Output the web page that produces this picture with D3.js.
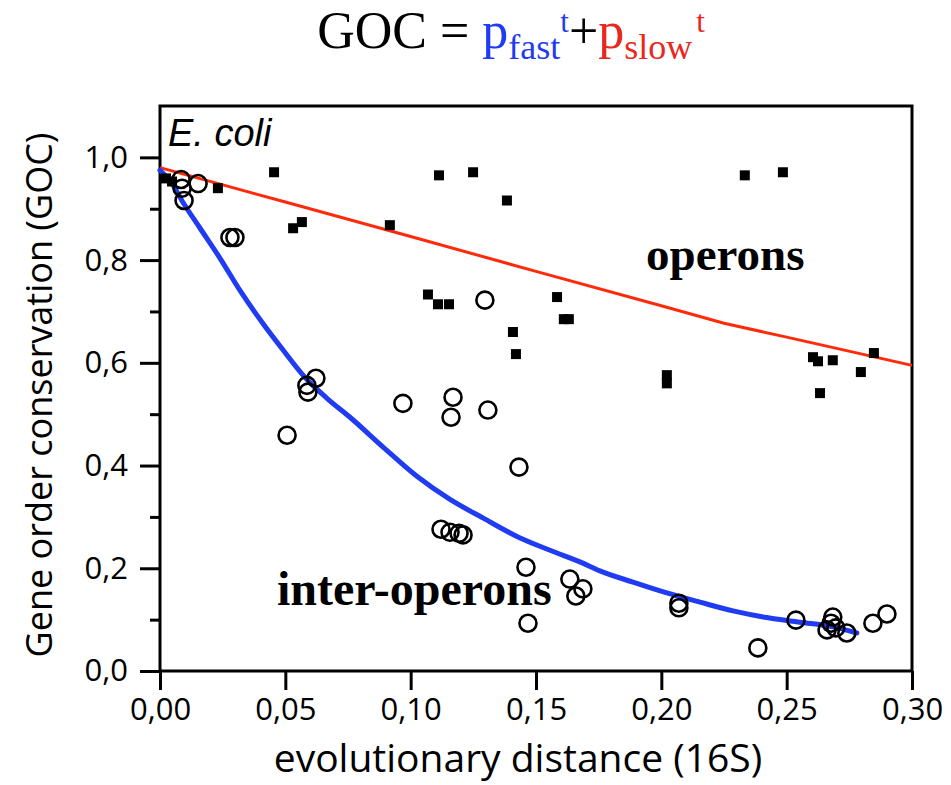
<!DOCTYPE html>
<html>
<head>
<meta charset="utf-8">
<script src="https://cdn.jsdelivr.net/npm/d3@7"></script>
<style>
	body { margin: 0; background: white; }
	svg { display: block; }
</style>
</head>
<body>
<script>
// operons: filled squares
let opX = [0.0024, 0.0048, 0.0231, 0.0455, 0.0531, 0.0566, 0.0917, 0.1113, 0.1249, 0.1384,
	0.1069, 0.1109, 0.1153, 0.1408, 0.1420, 0.1584, 0.1611, 0.1631, 0.2022, 0.2022,
	0.2333, 0.2485, 0.2605, 0.2625, 0.2684, 0.2633, 0.2796, 0.2848]
let opY = [0.959, 0.953, 0.940, 0.971, 0.862, 0.874, 0.868, 0.965, 0.971, 0.916,
	0.733, 0.714, 0.714, 0.660, 0.617, 0.728, 0.685, 0.685, 0.576, 0.560,
	0.965, 0.971, 0.611, 0.603, 0.605, 0.541, 0.582, 0.619]

// inter-operons: open circles
let ioX = [0.0084, 0.0152, 0.0088, 0.0096, 0.0279, 0.0299, 0.0507, 0.0622, 0.0586, 0.0590,
	0.0969, 0.1169, 0.1161, 0.1308, 0.1296, 0.1432, 0.1121, 0.1157, 0.1193, 0.1209,
	0.1460, 0.1468, 0.1635, 0.1687, 0.1659, 0.2070, 0.2070, 0.2385, 0.2537, 0.2684,
	0.2677, 0.2661, 0.2696, 0.2740, 0.2844, 0.2900]
let ioY = [0.957, 0.949, 0.940, 0.916, 0.844, 0.844, 0.459, 0.570, 0.556, 0.543,
	0.521, 0.533, 0.494, 0.508, 0.722, 0.397, 0.276, 0.270, 0.268, 0.265,
	0.202, 0.093, 0.179, 0.160, 0.146, 0.132, 0.123, 0.045, 0.099, 0.105,
	0.093, 0.080, 0.084, 0.074, 0.093, 0.111]

// fitted curves (blue = inter-operons, red = operons)
let fastX = [0.0000, 0.0048, 0.0092, 0.0160, 0.0239, 0.0319, 0.0407, 0.0491, 0.0578, 0.0666,
	0.0758, 0.0890, 0.1025, 0.1157, 0.1288, 0.1424, 0.1556, 0.1687, 0.1755, 0.1887,
	0.2022, 0.2154, 0.2286, 0.2421, 0.2553, 0.2684, 0.2780]
let fastY = [0.975, 0.949, 0.912, 0.862, 0.804, 0.741, 0.679, 0.625, 0.572, 0.531,
	0.494, 0.436, 0.379, 0.334, 0.298, 0.262, 0.235, 0.210, 0.195, 0.173,
	0.152, 0.134, 0.117, 0.104, 0.095, 0.086, 0.074]
let slowX = [0.00, 0.05, 0.10, 0.15, 0.20, 0.225, 0.25, 0.30]
let slowY = [0.980, 0.913, 0.846, 0.778, 0.711, 0.677, 0.650, 0.595]

let xTicks = [0, 0.05, 0.10, 0.15, 0.20, 0.25, 0.30]
let yTicks = [0, 0.2, 0.4, 0.6, 0.8, 1.0]
let yMinor = [0.1, 0.3, 0.5, 0.7, 0.9]

let W = 951, H = 785
let x0 = 160, x1 = 912, y0 = 671, y1 = 106

let BLUE = '#1f3cf2'
let RED = '#ff2a0a'
let TRED = '#e8281e'

let svg = d3.select('body').append('svg')
	.attr('width', W)
	.attr('height', H)

let x = d3.scaleLinear().domain([0, 0.3]).range([x0, x1])
let y = d3.scaleLinear().domain([0, 1.1]).range([y0, y1])

let loc = d3.formatLocale({decimal: ',', thousands: '.', grouping: [3], currency: ['', '']})

// axes
let xAxis = d3.axisBottom(x).tickValues(xTicks).tickSize(19).tickPadding(8).tickFormat(loc.format('.2f'))
let gx = svg.append('g').attr('transform', `translate(0,${y0})`).call(xAxis)
gx.select('.domain').remove()
gx.selectAll('line').attr('stroke', 'black').attr('stroke-width', 3)
gx.selectAll('text').attr('font-family', '"Open Sans", sans-serif').attr('font-size', 31).attr('fill', 'black')

let yAxis = d3.axisLeft(y).tickValues(yTicks).tickSize(20).tickPadding(12).tickFormat(loc.format('.1f'))
let gy = svg.append('g').attr('transform', `translate(${x0},0)`).call(yAxis)
gy.select('.domain').remove()
gy.selectAll('line').attr('stroke', 'black').attr('stroke-width', 3)
gy.selectAll('text').attr('font-family', '"Open Sans", sans-serif').attr('font-size', 31).attr('fill', 'black')

let gym = svg.append('g').attr('transform', `translate(${x0},0)`)
	.call(d3.axisLeft(y).tickValues(yMinor).tickSize(10).tickFormat(''))
gym.select('.domain').remove()
gym.selectAll('line').attr('stroke', 'black').attr('stroke-width', 3)

// frame
svg.append('rect')
	.attr('x', x0).attr('y', y1)
	.attr('width', x1 - x0).attr('height', y0 - y1)
	.attr('fill', 'none').attr('stroke', 'black').attr('stroke-width', 3)

// curves
let line = d3.line().x(d => x(d[0])).y(d => y(d[1]))
let smooth = d3.line().x(d => x(d[0])).y(d => y(d[1])).curve(d3.curveMonotoneX)
svg.append('path')
	.attr('d', line(slowX.map((v, i) => [v, slowY[i]])))
	.attr('fill', 'none').attr('stroke', RED).attr('stroke-width', 3)
svg.append('path')
	.attr('d', smooth(fastX.map((v, i) => [v, fastY[i]])))
	.attr('fill', 'none').attr('stroke', BLUE).attr('stroke-width', 5)
	.attr('stroke-linejoin', 'round').attr('stroke-linecap', 'round')

// points
svg.append('g').selectAll('rect')
	.data(opX.map((v, i) => [v, opY[i]]))
	.join('rect')
	.attr('x', d => x(d[0]) - 5).attr('y', d => y(d[1]) - 5)
	.attr('width', 10).attr('height', 10)
	.attr('fill', 'black')

svg.append('g').selectAll('circle')
	.data(ioX.map((v, i) => [v, ioY[i]]))
	.join('circle')
	.attr('cx', d => x(d[0])).attr('cy', d => y(d[1]))
	.attr('r', 8.5)
	.attr('fill', 'none').attr('stroke', 'black').attr('stroke-width', 2.6)

// labels in the plot
svg.append('text').attr('x', 168).attr('y', 146)
	.attr('font-family', '"Liberation Sans", Arial, sans-serif').attr('font-style', 'italic')
	.attr('font-size', 38).text('E. coli')

svg.append('text').attr('x', 646).attr('y', 270)
	.attr('font-family', '"Liberation Serif", "Times New Roman", serif').attr('font-weight', 'bold')
	.attr('font-size', 47).text('operons')

svg.append('text').attr('x', 277).attr('y', 605)
	.attr('font-family', '"Liberation Serif", "Times New Roman", serif').attr('font-weight', 'bold')
	.attr('font-size', 48).text('inter-operons')

// axis titles
svg.append('text').attr('x', 518).attr('y', 772)
	.attr('text-anchor', 'middle')
	.attr('font-family', '"Open Sans", sans-serif').attr('font-size', 39)
	.text('evolutionary distance (16S)')

svg.append('text')
	.attr('transform', 'translate(52,395) rotate(-90)')
	.attr('text-anchor', 'middle')
	.attr('font-family', '"Open Sans", sans-serif').attr('font-size', 36)
	.text('Gene order conservation (GOC)')

// title
let title = svg.append('text').attr('x', 511).attr('y', 48)
	.attr('text-anchor', 'middle')
	.attr('font-family', '"Liberation Serif", "Times New Roman", serif')
	.attr('font-size', 52)
title.append('tspan').text('GOC = ')
title.append('tspan').attr('fill', BLUE).text('p')
title.append('tspan').attr('fill', BLUE).attr('font-size', 36).attr('dy', 11).text('fast')
title.append('tspan').attr('fill', BLUE).attr('font-size', 31).attr('dy', -27).text('t')
title.append('tspan').attr('dy', 16).text('+')
title.append('tspan').attr('fill', TRED).text('p')
title.append('tspan').attr('fill', TRED).attr('font-size', 36).attr('dy', 11).text('slow')
title.append('tspan').attr('fill', TRED).attr('font-size', 31).attr('dy', -27).attr('dx', 4).text('t')
</script>
</body>
</html>
